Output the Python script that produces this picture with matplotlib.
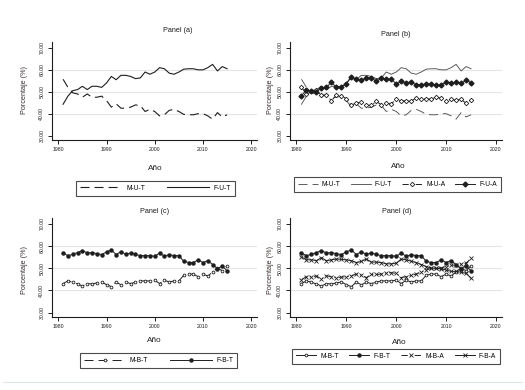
import matplotlib
matplotlib.use("Agg")
import matplotlib.pyplot as plt
from matplotlib.lines import Line2D

plt.rcParams["font.family"] = ["Liberation Sans", "DejaVu Sans"]
plt.rcParams["lines.scale_dashes"] = False

years = list(range(1981, 2016))

# Panel (a) / (b): U-T series
f_u_t = [44.3, 48.0, 50.5, 51.0, 52.5, 51.0, 52.5, 52.5, 52.0, 54.0,
         57.0, 55.5, 57.5, 57.5, 57.0, 56.0, 56.3, 59.0, 58.0, 59.0,
         61.0, 60.5, 58.5, 58.0, 59.0, 60.3, 60.5, 60.5, 60.0, 60.0,
         61.0, 62.5, 59.5, 61.5, 60.5]
m_u_t = [55.7, 52.0, 49.5, 49.0, 47.5, 49.0, 47.5, 47.5, 48.0, 46.0,
         43.0, 44.5, 42.5, 42.5, 43.0, 44.0, 43.7, 41.0, 42.0, 41.0,
         39.0, 39.5, 41.5, 42.0, 41.0, 39.7, 39.5, 39.5, 40.0, 40.0,
         39.0, 37.5, 40.5, 38.5, 39.5]

# Panel (b): U-A series
f_u_a = [48.2, 50.9, 50.2, 50.0, 51.8, 52.0, 54.4, 52.0, 52.4, 53.6,
         56.7, 55.6, 55.2, 56.4, 56.4, 54.7, 56.2, 55.6, 55.8, 53.6,
         54.7, 54.2, 54.4, 53.2, 53.3, 53.5, 53.6, 53.0, 53.3, 54.4,
         53.9, 54.4, 53.9, 55.2, 54.2]
m_u_a = [52.0, 49.1, 50.3, 50.6, 48.5, 48.5, 46.0, 48.3, 48.2, 46.8,
         43.8, 45.0, 45.2, 43.8, 43.8, 45.6, 44.1, 44.8, 44.4, 46.8,
         45.8, 45.9, 45.6, 47.3, 46.8, 46.7, 46.7, 47.4, 47.1, 45.8,
         46.5, 46.1, 46.5, 44.8, 46.4]

# Panel (c) / (d): B-T series
f_b_t = [56.9, 55.7, 56.3, 57.1, 58.0, 56.9, 57.1, 56.6, 56.2, 57.4,
         58.3, 56.2, 57.5, 56.3, 56.9, 56.3, 55.7, 55.7, 55.7, 55.4,
         56.9, 55.4, 56.2, 55.7, 55.7, 53.2, 52.6, 52.6, 53.8, 52.6,
         53.5, 51.7, 49.8, 51.1, 48.8]
m_b_t = [43.1, 44.3, 43.7, 42.9, 42.0, 43.1, 42.9, 43.4, 43.8, 42.6,
         41.7, 43.8, 42.5, 43.7, 43.1, 43.7, 44.3, 44.3, 44.3, 44.6,
         43.1, 44.6, 43.8, 44.3, 44.3, 46.8, 47.4, 47.4, 46.2, 47.4,
         46.5, 48.3, 50.2, 48.9, 51.2]

# Panel (d): B-A series
f_b_a = [55.1, 53.8, 53.8, 53.5, 54.8, 53.4, 53.8, 54.2, 54.0, 53.8,
         53.4, 52.6, 53.1, 54.2, 52.8, 52.8, 52.6, 52.0, 52.0, 52.3,
         54.2, 53.8, 53.2, 52.6, 51.7, 50.8, 50.0, 50.0, 49.8, 49.2,
         48.6, 48.6, 48.2, 47.7, 45.5]
m_b_a = [44.9, 46.2, 46.2, 46.5, 45.2, 46.6, 46.2, 45.8, 46.0, 46.2,
         46.6, 47.4, 46.9, 45.8, 47.2, 47.2, 47.4, 48.0, 48.0, 47.7,
         45.8, 46.2, 46.8, 47.4, 48.3, 49.2, 50.0, 50.0, 50.2, 50.8,
         51.4, 51.4, 51.8, 52.3, 54.5]

W, H = 525, 390
fig = plt.figure(figsize=(W / 100, H / 100), dpi=100)

INK = "#1e1e1e"
DASH = (0, (6.5, 3.6))
DASHDOT = (0, (4.5, 2.0, 1.0, 2.0))


def px_axes(left, right, top, bottom):
    return fig.add_axes([left / W, 1 - bottom / H, (right - left) / W, (bottom - top) / H])


def style_axes(ax):
    ax.set_xlim(1978.7, 2021.2)
    ax.set_ylim(28.0, 72.7)
    ax.set_xticks([1980, 1990, 2000, 2010, 2020])
    ax.set_yticks([30, 40, 50, 60, 70])
    ax.set_yticklabels([f"{v:.2f}" for v in [30, 40, 50, 60, 70]],
                       rotation=90, va="center")
    for v in [40, 50, 60]:
        ax.axhline(v, color="#e2e6e6", lw=0.8, zorder=0)
    for s in ["top", "right"]:
        ax.spines[s].set_visible(False)
    for s in ["left", "bottom"]:
        ax.spines[s].set_linewidth(0.8)
        ax.spines[s].set_color(INK)
    ax.tick_params(axis="both", length=3, width=0.7, labelsize=3.7,
                   colors=INK, pad=2)
    ax.tick_params(axis="y", pad=2.5)


def label_panel(title, tx, ty, ax_x, ax_y, yl_x, yl_y):
    fig.text(tx / W, 1 - ty / H, title, ha="center", va="center",
             fontsize=5.2, color=INK)
    fig.text(ax_x / W, 1 - ax_y / H, "Año", ha="center", va="center",
             fontsize=5.9, color=INK)
    fig.text(yl_x / W, 1 - yl_y / H, "Porcentaje (%)", ha="center",
             va="center", rotation=90, fontsize=5.2, color="#3a2e2e")


def add_legend(ax, x0, x1, y0, y1, ncol, hlen, colsp):
    leg = ax.legend(loc="center", bbox_to_anchor=((x0 + x1) / 2 / W, 1 - (y0 + y1) / 2 / H),
                    bbox_transform=fig.transFigure, ncol=ncol, fontsize=4.8,
                    frameon=True, fancybox=False, edgecolor=INK,
                    handlelength=hlen, handletextpad=0.6, columnspacing=colsp,
                    borderpad=0.6, numpoints=1)
    leg.get_frame().set_linewidth(0.8)
    return leg


# Panel (a)
ax_a = px_axes(52, 257, 42, 140)
style_axes(ax_a)
ax_a.plot(years, m_u_t, color=INK, lw=0.8, linestyle=DASH, label="M-U-T")
ax_a.plot(years, f_u_t, color=INK, lw=0.8, label="F-U-T")
label_panel("Panel (a)", 178, 30, 155, 168, 25, 90)
add_legend(ax_a, 77, 234, 179, 197, 2, 6.3, 3.3)

# Panel (b)
ax_b = px_axes(290, 502, 42, 140)
style_axes(ax_b)
ax_b.plot(years, m_u_t, color="#444444", lw=0.6, linestyle=DASH, label="M-U-T")
ax_b.plot(years, f_u_t, color="#444444", lw=0.6, label="F-U-T")
ax_b.plot(years, m_u_a, color=INK, lw=0.7, linestyle=DASHDOT, marker="D",
          markersize=2.3, markerfacecolor="white", markeredgewidth=0.6, label="M-U-A")
ax_b.plot(years, f_u_a, color=INK, lw=0.7, marker="D", markersize=2.5,
          label="F-U-A")
label_panel("Panel (b)", 396, 35, 398, 167, 270, 90)
add_legend(ax_b, 294, 501, 175, 194, 4, 3.0, 1.5)

# Panel (c)
ax_c = px_axes(52, 257, 218, 317)
style_axes(ax_c)
ax_c.plot(years, m_b_t, color=INK, lw=0.7, linestyle=DASH, marker="o",
          markersize=2.0, markerfacecolor="white", markeredgewidth=0.6, label="M-B-T")
ax_c.plot(years, f_b_t, color=INK, lw=0.7, marker="o", markersize=2.2,
          label="F-B-T")
label_panel("Panel (c)", 155, 212, 154, 340, 25, 270)
add_legend(ax_c, 78, 239, 352, 369, 2, 6.3, 3.3)

# Panel (d)
ax_d = px_axes(290, 502, 218, 317)
style_axes(ax_d)
ax_d.plot(years, m_b_t, color=INK, lw=0.7, marker="o", markersize=2.0,
          markerfacecolor="white", markeredgewidth=0.6, label="M-B-T")
ax_d.plot(years, f_b_t, color=INK, lw=0.7, marker="o", markersize=2.2,
          label="F-B-T")
ax_d.plot(years, m_b_a, color=INK, lw=0.7, linestyle=DASHDOT, marker="x",
          markersize=2.4, markeredgewidth=0.6, label="M-B-A")
ax_d.plot(years, f_b_a, color=INK, lw=0.7, marker="x", markersize=2.4,
          markeredgewidth=0.6, label="F-B-A")
label_panel("Panel (d)", 397, 212, 399, 342, 270, 270)
add_legend(ax_d, 292, 500, 347, 365, 4, 3.0, 1.6)

# faint rule along the bottom of the figure
fig.add_artist(Line2D([3 / W, 522 / W], [1 - 382 / H, 1 - 382 / H],
                      color="#dfe8e6", lw=0.8))

fig.savefig("out.png", dpi=100, facecolor="white")
